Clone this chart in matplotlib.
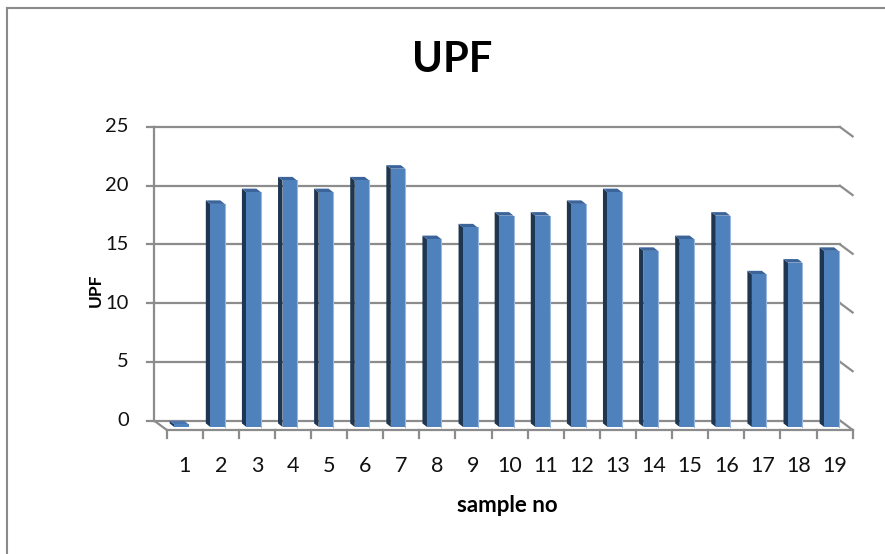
import matplotlib.pyplot as plt
from matplotlib.patches import Polygon, Rectangle

plt.rcParams['font.family'] = ['Lato', 'DejaVu Sans']

samples = list(range(1, 20))
upf = [0, 18, 19, 20, 19, 20, 21, 15, 16, 17, 17, 18, 19, 14, 15, 17, 12, 13, 14]
yticks = [0, 5, 10, 15, 20, 25]

W, H = 885, 554
fig = plt.figure(figsize=(W / 100, H / 100), dpi=100)

# back wall of the 3d chart (pixel box -> figure fractions)
left, right, top, bottom = 154, 840, 127, 420.5
ax = fig.add_axes([left / W, 1 - bottom / H, (right - left) / W, (bottom - top) / H])
ax.set_xlim(0.5, 19.5)
ax.set_ylim(0, 25)
ax.axis('off')

grid_c = '#8c8c8c'
ddx, ddy = 0.35, -0.8  # depth offset back wall -> front floor

# back wall gridlines + right side diagonals + left ticks
for v in yticks:
    ax.plot([0.5, 19.5], [v, v], color=grid_c, lw=1.6, clip_on=False, zorder=1)
    ax.plot([19.5, 19.5 + ddx], [v, v + ddy], color=grid_c, lw=1.6, clip_on=False, zorder=1)
    ax.plot([0.31, 0.5], [v, v], color=grid_c, lw=1.6, clip_on=False, zorder=1)
    ax.text(-0.2, v, str(v), ha='right', va='center', fontsize=14.5, color='#111111')
ax.plot([0.5, 0.5], [0, 25], color=grid_c, lw=1.6, clip_on=False, zorder=1)
ax.plot([0.5, 0.5 + ddx], [0, ddy], color=grid_c, lw=1.6, clip_on=False, zorder=1)
ax.plot([0.5 + ddx, 19.5 + ddx], [ddy, ddy], color=grid_c, lw=1.6, clip_on=False, zorder=1)

# category ticks and labels on the front floor
for k in range(20):
    xb = k + 0.5 + ddx
    ax.plot([xb, xb], [ddy, ddy - 0.65], color=grid_c, lw=1.6, clip_on=False, zorder=1)
for s in samples:
    ax.text(s + ddx, -3.85, str(s), ha='center', va='center', fontsize=15.5, color='#111111')

# 3d-looking columns
front_c, side_c, top_c = '#4f81bd', '#1f3652', '#3a649a'
sx, sy = -0.125, 0.3
for s, v in zip(samples, upf):
    x0 = s + 0.06
    x1 = x0 + 0.4
    yb = -0.55
    yt = v + 0.45 if v > 0 else yb + 0.22
    side = Polygon([(x0, yb), (x0, yt), (x0 + sx, yt + sy), (x0 + sx, yb + sy)],
                   closed=True, facecolor=side_c, edgecolor='none', clip_on=False, zorder=3)
    topf = Polygon([(x0, yt), (x1, yt), (x1 + sx, yt + sy), (x0 + sx, yt + sy)],
                   closed=True, facecolor=top_c if v > 0 else '#4a74ad', edgecolor='none',
                   clip_on=False, zorder=3)
    ax.add_patch(side)
    ax.add_patch(topf)
    ax.add_patch(Rectangle((x0, yb), x1 - x0, yt - yb, facecolor=front_c,
                           edgecolor='none', clip_on=False, zorder=3))
    if v > 0:
        ax.plot([x1, x1], [yb, yt], color='#9bb8dc', lw=0.8, clip_on=False, zorder=4)

fig.text(452.5 / W, 1 - 60 / H, 'UPF', ha='center', va='center', fontsize=30, fontweight='bold')
fig.text(96 / W, 1 - 290 / H, 'UPF', ha='center', va='center', rotation=90,
         fontsize=12.5, fontweight='bold')
fig.text(507 / W, 1 - 506 / H, 'sample no', ha='center', va='center', fontsize=16,
         fontweight='bold')

# chart area border (top and left visible)
fig.add_artist(plt.Line2D([7 / W, 1], [1 - 8 / H, 1 - 8 / H], color='#8a8a8a', lw=1.5,
                          transform=fig.transFigure))
fig.add_artist(plt.Line2D([7 / W, 7 / W], [0, 1 - 8 / H], color='#8a8a8a', lw=1.5,
                          transform=fig.transFigure))

fig.savefig('out.png', dpi=100)
